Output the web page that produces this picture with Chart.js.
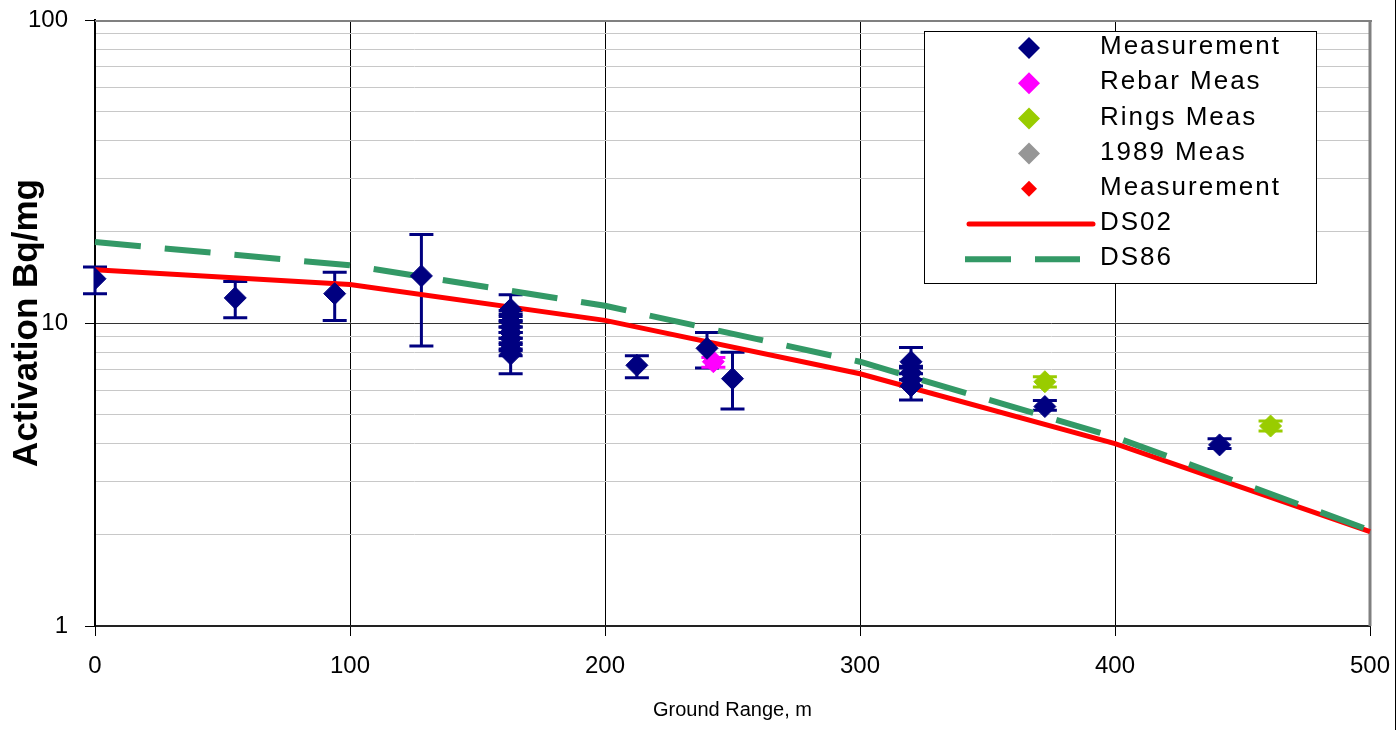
<!DOCTYPE html>
<html lang="en">
<head>
  <meta charset="UTF-8" />
  <title>Activation vs Ground Range</title>
  <script src="https://cdn.jsdelivr.net/npm/chart.js@4.4.1/dist/chart.umd.min.js"></script>
  <style>
    body { margin: 0; background: #fff; }
    #wrap { width: 1399px; height: 730px; }
  </style>
</head>
<body>
  <div id="wrap"><canvas id="actChart" width="1399" height="730"></canvas></div>

  <script>
    // measured activations (Bq/mg) with error bar limits
    const measX  = [0, 55, 94, 128, 163, 163, 163, 163, 163, 163, 163, 163, 163, 212.5, 240, 250, 320, 320, 320, 320, 372.5, 441]
    const measY  = [14.0, 12.1, 12.5, 14.3, 11.1, 10.6, 10.1, 9.7, 9.3, 8.9, 8.5, 8.2, 7.9, 7.25, 8.25, 6.55, 7.45, 6.85, 6.5, 6.2, 5.3, 3.96]
    const measLo = [12.5, 10.4, 10.2, 8.4, 10.7, 10.2, 9.7, 9.3, 8.9, 8.5, 8.1, 7.8, 6.8, 6.6, 7.1, 5.2, 7.1, 6.5, 6.2, 5.57, 5.15, 3.85]
    const measHi = [15.3, 13.7, 14.7, 19.6, 12.4, 11.0, 10.5, 10.1, 9.7, 9.3, 8.9, 8.6, 8.2, 7.8, 9.3, 8.0, 8.3, 7.2, 6.8, 6.5, 5.55, 4.15]

    const rebarX  = [242.5]
    const rebarY  = [7.45]
    const rebarLo = [7.15]
    const rebarHi = [7.7]

    const ringsX  = [372.5, 461]
    const ringsY  = [6.4, 4.57]
    const ringsLo = [6.15, 4.4]
    const ringsHi = [6.65, 4.75]

    // calculated curves
    const calcX = [0, 100, 200, 300, 400, 500, 506]
    const ds02  = [15.0, 13.4, 10.2, 6.8, 4.0, 2.05, 1.98]
    const ds86  = [18.5, 15.5, 11.4, 7.45, 4.2, 2.07, 1.99]

    const xTicks = [0, 100, 200, 300, 400, 500]
    const yTicks = [1, 2, 3, 4, 5, 6, 7, 8, 9, 10, 20, 30, 40, 50, 60, 70, 80, 90, 100]
    const yLabels = [1, 10, 100]

    const FONT = "'Liberation Sans', Arial, sans-serif"

    const pts = (xs, ys) => xs.map((x, i) => ({ x: x, y: ys[i] }))

    // vertical error bars with caps, plus the plot frame
    const errorBars = {
      id: 'errorBars',
      beforeDatasetsDraw(chart) {
        const ctx = chart.ctx
        const xs = chart.scales.x, ys = chart.scales.y
        const area = chart.chartArea
        ctx.save()
        chart.data.datasets.forEach((ds) => {
          if (!ds.errLo) return
          ctx.strokeStyle = ds.backgroundColor
          ctx.lineWidth = 3
          ds.data.forEach((p, i) => {
            const px = xs.getPixelForValue(p.x)
            const top = ys.getPixelForValue(ds.errHi[i])
            const bot = ys.getPixelForValue(ds.errLo[i])
            ctx.beginPath()
            ctx.moveTo(px, top); ctx.lineTo(px, bot)
            ctx.moveTo(px - 12, top); ctx.lineTo(px + 12, top)
            ctx.moveTo(px - 12, bot); ctx.lineTo(px + 12, bot)
            ctx.stroke()
          })
        })
        // top and right frame
        ctx.strokeStyle = '#808080'
        ctx.lineWidth = 2
        ctx.beginPath(); ctx.moveTo(area.left, area.top + 1); ctx.lineTo(area.right + 2, area.top + 1); ctx.stroke()
        ctx.lineWidth = 3
        ctx.beginPath(); ctx.moveTo(area.right, area.top); ctx.lineTo(area.right, area.bottom); ctx.stroke()
        ctx.restore()
      },
      afterDraw(chart) {
        const ctx = chart.ctx
        ctx.save()
        ctx.strokeStyle = '#000'
        ctx.lineWidth = 1
        ctx.beginPath(); ctx.moveTo(1395.5, 0); ctx.lineTo(1395.5, chart.height); ctx.stroke()
        ctx.restore()
      }
    }

    // boxed legend inside the plot, upper right
    const boxLegend = {
      id: 'boxLegend',
      afterDraw(chart) {
        const ctx = chart.ctx
        const x0 = 924, y0 = 31, w = 392, h = 252
        ctx.save()
        ctx.fillStyle = '#fff'
        ctx.fillRect(x0, y0, w, h)
        ctx.strokeStyle = '#000'
        ctx.lineWidth = 1
        ctx.strokeRect(x0 + 0.5, y0 + 0.5, w, h)
        chart.data.datasets.forEach((ds, i) => {
          const cy = 48 + i * 35.2
          if (ds.showLine) {
            ctx.strokeStyle = ds.borderColor
            ctx.lineWidth = ds.borderWidth
            ctx.setLineDash(ds.borderDash || [])
            ctx.lineCap = ds.borderDash ? 'butt' : 'round'
            ctx.beginPath()
            ctx.moveTo(ds.borderDash ? 965 : 969, cy)
            ctx.lineTo(ds.borderDash ? 1080 : 1093, cy)
            ctx.stroke()
            ctx.setLineDash([])
          } else {
            const r = ds.legendRadius || 11
            ctx.fillStyle = ds.backgroundColor
            ctx.beginPath()
            ctx.moveTo(1029 - r, cy); ctx.lineTo(1029, cy - r)
            ctx.lineTo(1029 + r, cy); ctx.lineTo(1029, cy + r)
            ctx.closePath()
            ctx.fill()
          }
          ctx.fillStyle = '#000'
          ctx.font = '26px ' + FONT
          ctx.letterSpacing = '2px'
          ctx.textBaseline = 'middle'
          ctx.textAlign = 'left'
          ctx.fillText(ds.label, 1100, cy - 1)
        })
        ctx.restore()
      }
    }

    const diamond = (color, r) => ({
      backgroundColor: color,
      borderColor: color,
      pointStyle: 'rectRot',
      pointRadius: r,
      pointHoverRadius: r,
      pointBorderWidth: 1,
      showLine: false
    })

    new Chart(document.getElementById('actChart').getContext('2d'), {
      type: 'scatter',
      data: {
        datasets: [
          Object.assign({ label: 'Measurement', data: pts(measX, measY), errLo: measLo, errHi: measHi, order: 0 }, diamond('#000080', 11)),
          Object.assign({ label: 'Rebar Meas', data: pts(rebarX, rebarY), errLo: rebarLo, errHi: rebarHi, order: 1 }, diamond('#FF00FF', 11)),
          Object.assign({ label: 'Rings Meas', data: pts(ringsX, ringsY), errLo: ringsLo, errHi: ringsHi, order: 2 }, diamond('#99CC00', 11)),
          Object.assign({ label: '1989 Meas', data: [], order: 3 }, diamond('#969696', 11)),
          Object.assign({ label: 'Measurement', data: [], order: 4, legendRadius: 8 }, diamond('#FF0000', 8)),
          {
            label: 'DS02', data: pts(calcX, ds02), order: 6,
            showLine: true, borderColor: '#FF0000', backgroundColor: '#FF0000',
            borderWidth: 5, pointRadius: 0, tension: 0, clip: false
          },
          {
            label: 'DS86', data: pts(calcX, ds86), order: 5,
            showLine: true, borderColor: '#339966', backgroundColor: '#339966',
            borderWidth: 6, borderDash: [46, 24], borderCapStyle: 'butt',
            pointRadius: 0, tension: 0, clip: false
          }
        ]
      },
      options: {
        responsive: false,
        animation: false,
        layout: { padding: { top: 20, right: 29, left: 0, bottom: 0 } },
        plugins: {
          legend: { display: false },
          tooltip: { enabled: false }
        },
        scales: {
          x: {
            type: 'linear',
            min: 0,
            max: 500,
            afterFit: (s) => { s.height = 104; s.paddingLeft = 0; s.paddingRight = 0 },
            afterBuildTicks: (s) => { s.ticks = xTicks.map(v => ({ value: v })) },
            grid: { color: '#000', lineWidth: 1, tickLength: 10, tickColor: '#000' },
            border: { color: '#222', width: 2 },
            ticks: { color: '#000', padding: 16, font: { family: FONT, size: 24 }, maxRotation: 0 },
            title: {
              display: true, text: 'Ground Range, m', color: '#000',
              font: { family: FONT, size: 20 }, padding: { top: 0, bottom: 8 }
            }
          },
          y: {
            type: 'logarithmic',
            min: 1,
            max: 100,
            afterFit: (s) => { s.width = 95; s.paddingTop = 0; s.paddingBottom = 0 },
            afterBuildTicks: (s) => { s.ticks = yTicks.map(v => ({ value: v })) },
            grid: {
              color: (c) => c.tick && c.tick.value === 10 ? '#333' : '#c8c8c8',
              lineWidth: 1,
              tickLength: 10,
              tickColor: (c) => c.tick && yLabels.includes(c.tick.value) ? '#000' : 'rgba(0,0,0,0)'
            },
            border: { color: '#000', width: 2 },
            ticks: {
              color: '#000', padding: 17, autoSkip: false,
              font: { family: FONT, size: 24 },
              callback: (v) => yLabels.includes(v) ? String(v) : ''
            },
            title: {
              display: true, text: 'Activation Bq/mg', color: '#000',
              font: { family: FONT, size: 35, weight: 'bold' }, padding: { top: 6, bottom: 0 }
            }
          }
        }
      },
      plugins: [errorBars, boxLegend]
    })
  </script>
</body>
</html>
